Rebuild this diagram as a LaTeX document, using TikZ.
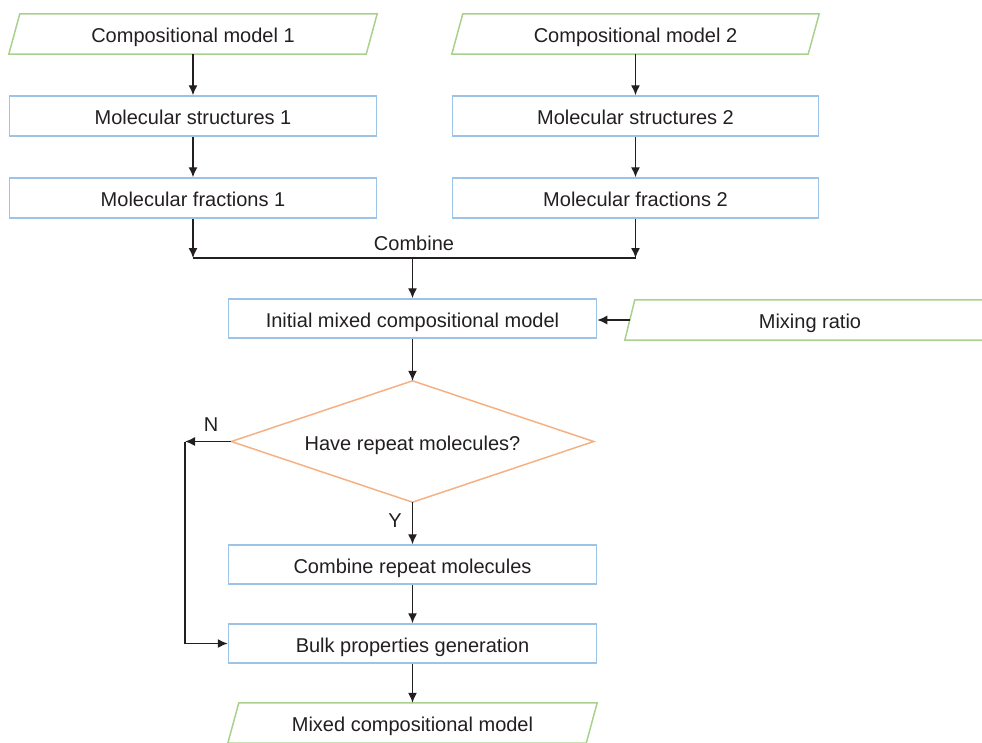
\documentclass[tikz,border=0pt]{standalone}
\usepackage{fontspec}
\setmainfont{Liberation Sans}
\usetikzlibrary{arrows.meta}
\definecolor{pgreen}{HTML}{A9D18E}
\definecolor{pblue}{HTML}{9DC3E6}
\definecolor{porange}{HTML}{F4B183}
\definecolor{ink}{HTML}{231F20}
\tikzset{
  lbl/.style={font=\fontsize{20}{24}\selectfont, text=ink, inner sep=0pt},
  txt/.style={lbl, text height=17.4pt, text depth=0pt},
  bluebox/.style={txt, draw=pblue, line width=1.5pt, rectangle, minimum height=40pt},
  paraholder/.style={txt, rectangle, minimum height=40pt},
  conn/.style={draw=ink, line width=1.4pt, -{Latex[length=10pt,width=9pt]}},
  plain/.style={draw=ink, line width=1.4pt},
  paraline/.style={draw=pgreen, line width=1.5pt, line join=miter},
}
\newcommand{\paradraw}[2]{%
  \draw[paraline] ([xshift=#2]#1.north west) -- ([xshift=#2]#1.north east)
    -- ([xshift=-#2]#1.south east) -- ([xshift=-#2]#1.south west) -- cycle;}
\begin{document}
\begin{tikzpicture}[x=1pt,y=-1pt]
\useasboundingbox (0,0) rectangle (982,742);
\clip (0,0) rectangle (982,742);
% left column
\node[paraholder, minimum width=357pt] (cm1) at (193,34) {Compositional model 1};
\paradraw{cm1}{5.5pt}
\node[bluebox, minimum width=367pt] (ms1) at (193,116) {Molecular structures 1};
\node[bluebox, minimum width=367pt] (mf1) at (193,198) {Molecular fractions 1};
% right column
\node[paraholder, minimum width=356pt] (cm2) at (635.5,34) {Compositional model 2};
\paradraw{cm2}{5.5pt}
\node[bluebox, minimum width=366pt] (ms2) at (635.5,116) {Molecular structures 2};
\node[bluebox, minimum width=366pt] (mf2) at (635.5,198) {Molecular fractions 2};
% middle
\node[bluebox, minimum width=368pt, minimum height=39pt] (init) at (412.5,318.5) {Initial mixed compositional model};
\node[paraholder, minimum width=360pt] (mix) at (810,320) {Mixing ratio};
\paradraw{mix}{5pt}
\node[txt, rectangle, minimum width=362pt, minimum height=121pt] (dec) at (412.5,441.5) {Have repeat molecules?};
\draw[draw=porange, line width=1.5pt] (dec.north) -- (dec.east) -- (dec.south) -- (dec.west) -- cycle;
\node[bluebox, minimum width=368pt, minimum height=39pt] (crm) at (412.5,564.5) {Combine repeat molecules};
\node[bluebox, minimum width=368pt, minimum height=39pt] (bulk) at (412.5,643.5) {Bulk properties generation};
\node[paraholder, minimum width=358pt] (mcm) at (412.5,723) {Mixed compositional model};
\paradraw{mcm}{5.5pt}
% labels
\node[lbl] (comb) at (414,243) {Combine};
\node[lbl] (nlab) at (211,425) {N};
\node[lbl] (ylab) at (395,521) {Y};
% junction coordinates
\coordinate (jl) at (mf1.south |- 0,258);
\coordinate (jr) at (mf2.south |- 0,258);
\coordinate (jm) at (init.north |- 0,258);
\coordinate (nc) at (185,441.5);
% connectors
\draw[conn] (cm1.south) -- (ms1.north);
\draw[conn] (ms1.south) -- (mf1.north);
\draw[conn] (cm2.south) -- (ms2.north);
\draw[conn] (ms2.south) -- (mf2.north);
\draw[conn] (mf1.south) -- (jl);
\draw[conn] (mf2.south) -- (jr);
\draw[plain] (jl) -- (jr);
\draw[conn] (jm) -- (init.north);
\draw[conn] (mix.west) -- (mix.west -| init.east);
\draw[conn] (init.south) -- (dec.north);
\draw[conn] (dec.west) -- (nc);
\draw[conn] (nc) |- (bulk.west);
\draw[conn] (dec.south) -- (crm.north);
\draw[conn] (crm.south) -- (bulk.north);
\draw[conn] (bulk.south) -- (mcm.north);
\end{tikzpicture}
\end{document}
